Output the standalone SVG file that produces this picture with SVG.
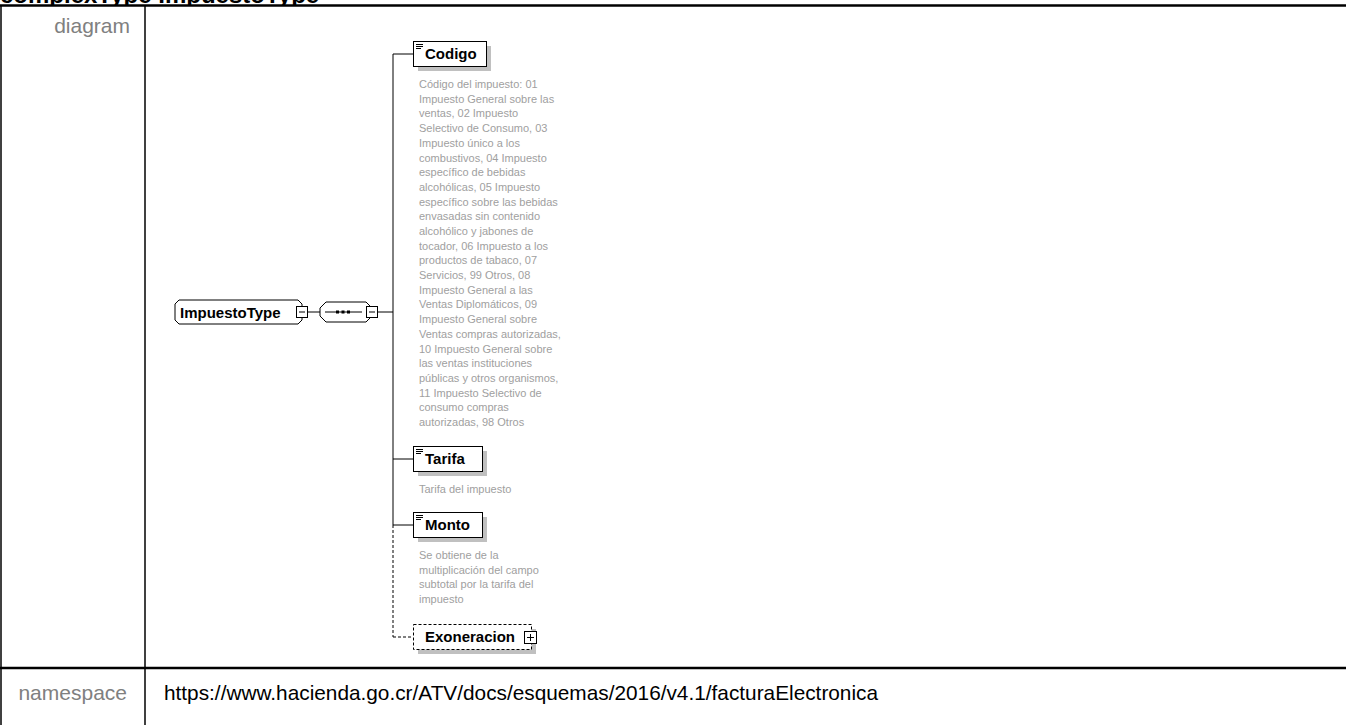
<svg xmlns="http://www.w3.org/2000/svg" width="1346" height="725" viewBox="0 0 1346 725">
<style>
.lbl{font-family:"Liberation Sans",Arial,sans-serif;font-size:21px;fill:#808080;text-anchor:end}
.ns{font-family:"Liberation Sans",Arial,sans-serif;font-size:20.8px;fill:#000}
.title{font-family:"Liberation Sans",Arial,sans-serif;font-size:24px;font-weight:bold;fill:#000}
.node{font-family:"Liberation Sans",Arial,sans-serif;font-size:15px;font-weight:bold;fill:#000}
.desc{font-family:"Liberation Sans",Arial,sans-serif;font-size:11px;fill:#a0a0a0}
.box{fill:#fff;stroke:#000;stroke-width:1}
.dbox{fill:#fff;stroke:#000;stroke-width:1;stroke-dasharray:3,2}
.shadow{fill:#c0c0c0}
.conn{stroke:#000;stroke-width:1;fill:none}
.dash{stroke-dasharray:3,2}
.icon{stroke:#000;stroke-width:1;fill:none}
.tbl{stroke:#000;fill:none}
</style>
<g id="page">
<text class="title" x="0" y="3">complexType ImpuestoType</text>
<rect x="0" y="6" width="1346" height="719" fill="#fff"/>
<line class="tbl" x1="0" y1="5.5" x2="1346" y2="5.5" stroke-width="2.5"/>
<line class="tbl" x1="0" y1="668" x2="1346" y2="668" stroke-width="2.5"/>
<line class="tbl" x1="1" y1="5" x2="1" y2="725" stroke-width="1.5"/>
<line class="tbl" x1="145" y1="5" x2="145" y2="725" stroke-width="1.5"/>
<text class="lbl" x="130" y="33">diagram</text>
<text class="lbl" x="127" y="700">namespace</text>
<text class="ns" x="164" y="700">https://www.hacienda.go.cr/ATV/docs/esquemas/2016/v4.1/facturaElectronica</text>
</g>
<g id="connectors">
<line class="conn" x1="307" y1="312" x2="320" y2="312"/>
<line class="conn" x1="377" y1="312" x2="393" y2="312"/>
<line class="conn" x1="393" y1="54" x2="393" y2="525"/>
<line class="conn dash" x1="393" y1="525" x2="393" y2="637"/>
<line class="conn" x1="393" y1="54" x2="413" y2="54"/>
<line class="conn" x1="393" y1="459" x2="413" y2="459"/>
<line class="conn" x1="393" y1="525" x2="413" y2="525"/>
<line class="conn dash" x1="393" y1="637" x2="413" y2="637"/>
</g>
<g id="ImpuestoType">
<polygon class="box" points="179,300 298,300 302,304 302,320 298,324 179,324 175,320 175,304"/>
<text class="node" x="180" y="317.5">ImpuestoType</text>
<rect class="box" x="296.5" y="306.5" width="11" height="11"/>
<line class="icon" x1="299" y1="312" x2="305" y2="312"/>
</g>
<g id="sequence">
<polygon class="box" points="326,302 366,302 372,308 372,316 366,322 326,322 320,316 320,308"/>
<line class="icon" x1="325" y1="312" x2="362" y2="312"/>
<rect x="336" y="310.5" width="3" height="3" fill="#000"/>
<rect x="341.5" y="310.5" width="3" height="3" fill="#000"/>
<rect x="347" y="310.5" width="3" height="3" fill="#000"/>
<rect class="box" x="366.5" y="306.5" width="11" height="11"/>
<line class="icon" x1="369" y1="312" x2="375" y2="312"/>
</g>
<g id="Codigo">
<rect class="shadow" x="418" y="46" width="73" height="25"/>
<rect class="box" x="413.5" y="41.5" width="73" height="25"/>
<path class="icon" d="M416 44.5h7M416 46.5h7M416 48.5h5"/>
<text class="node" x="425" y="59">Codigo</text>
<text class="desc" x="419" y="88">Código del impuesto: 01<tspan x="419" dy="14.7">Impuesto General sobre las</tspan><tspan x="419" dy="14.7">ventas, 02 Impuesto</tspan><tspan x="419" dy="14.7">Selectivo de Consumo, 03</tspan><tspan x="419" dy="14.7">Impuesto único a los</tspan><tspan x="419" dy="14.7">combustivos, 04 Impuesto</tspan><tspan x="419" dy="14.7">específico de bebidas</tspan><tspan x="419" dy="14.7">alcohólicas, 05 Impuesto</tspan><tspan x="419" dy="14.7">específico sobre las bebidas</tspan><tspan x="419" dy="14.7">envasadas sin contenido</tspan><tspan x="419" dy="14.7">alcohólico y jabones de</tspan><tspan x="419" dy="14.7">tocador, 06 Impuesto a los</tspan><tspan x="419" dy="14.7">productos de tabaco, 07</tspan><tspan x="419" dy="14.7">Servicios, 99 Otros, 08</tspan><tspan x="419" dy="14.7">Impuesto General a las</tspan><tspan x="419" dy="14.7">Ventas Diplomáticos, 09</tspan><tspan x="419" dy="14.7">Impuesto General sobre</tspan><tspan x="419" dy="14.7">Ventas compras autorizadas,</tspan><tspan x="419" dy="14.7">10 Impuesto General sobre</tspan><tspan x="419" dy="14.7">las ventas instituciones</tspan><tspan x="419" dy="14.7">públicas y otros organismos,</tspan><tspan x="419" dy="14.7">11 Impuesto Selectivo de</tspan><tspan x="419" dy="14.7">consumo compras</tspan><tspan x="419" dy="14.7">autorizadas, 98 Otros</tspan></text>
</g>
<g id="Tarifa">
<rect class="shadow" x="418" y="451" width="69" height="25"/>
<rect class="box" x="413.5" y="446.5" width="69" height="25"/>
<path class="icon" d="M416 449.5h7M416 451.5h7M416 453.5h5"/>
<text class="node" x="425" y="464">Tarifa</text>
<text class="desc" x="419" y="493">Tarifa del impuesto</text>
</g>
<g id="Monto">
<rect class="shadow" x="418" y="517" width="69" height="25"/>
<rect class="box" x="413.5" y="512.5" width="69" height="25"/>
<path class="icon" d="M416 515.5h7M416 517.5h7M416 519.5h5"/>
<text class="node" x="425" y="530">Monto</text>
<text class="desc" x="419" y="559">Se obtiene de la<tspan x="419" dy="14.7">multiplicación del campo</tspan><tspan x="419" dy="14.7">subtotal por la tarifa del</tspan><tspan x="419" dy="14.7">impuesto</tspan></text>
</g>
<g id="Exoneracion">
<rect class="shadow" x="418" y="629" width="118" height="25"/>
<rect class="dbox" x="413.5" y="624.5" width="118" height="25"/>
<text class="node" x="425" y="642">Exoneracion</text>
<rect class="box" x="524.5" y="631.5" width="12" height="12"/>
<path class="icon" d="M527 637.5h7M530.5 634v7"/>
</g>
</svg>
